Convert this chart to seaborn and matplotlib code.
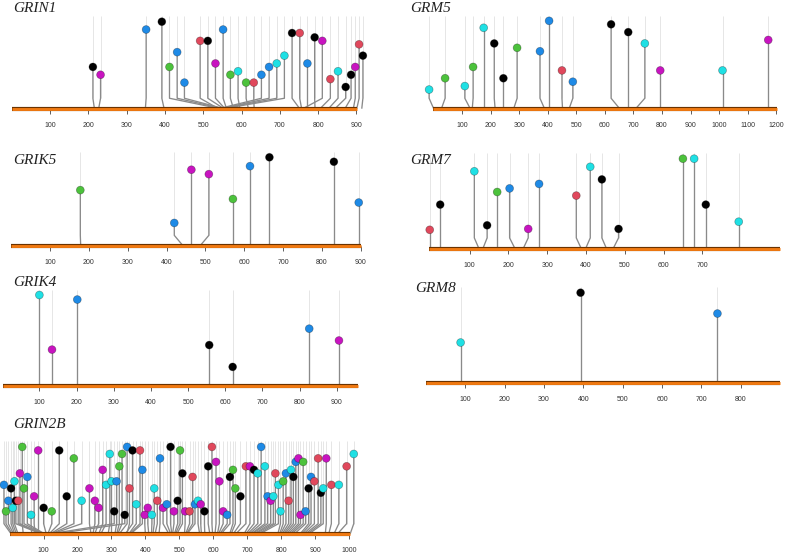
import numpy as np
import pandas as pd
import matplotlib
matplotlib.use("Agg")
import matplotlib.pyplot as plt
import seaborn as sns
from matplotlib.collections import LineCollection

sns.set_theme(style="white")
plt.rcParams['font.family'] = ['Liberation Sans', 'DejaVu Sans']

PALETTE = {"k": "#000000", "m": "#c814c0", "b": "#1e8ae6",
           "g": "#4cc23c", "c": "#1fe0e4", "r": "#e0485c"}

# ---------------- data ----------------
grin1_pos = [212, 232, 351, 392, 412, 432, 451, 492, 512, 532, 552, 571, 591, 612, 632,
             652, 672, 692, 712, 732, 752, 772, 791, 811, 832, 852, 872, 886, 897, 907, 917]
grin1_height = [48, 39, 91, 100, 48, 65, 30, 78, 78, 52, 91, 39, 43, 30, 30,
                39, 48, 52, 61, 87, 87, 52, 82, 78, 34, 43, 25, 39, 48, 74, 61]
grin1_anchor = [216, 227, 349, 398, 544, 551, 554, 540, 554, 557, 561, 579, 596, 618, 633,
                540, 544, 548, 553, 752, 757, 772, 792, 760, 805, 827, 844, 870, 892, 901, 914]
grin1_type = list("kmbkgbbrkmbgcgrbbcckrbkmrckkmrk")
grin1_ticks = list(range(100, 1000, 100))

grm5_pos = [-15, 41, 110, 139, 176, 213, 245, 293, 373, 405, 450, 488, 622, 682, 740, 794, 1012, 1172]
grm5_height = [22, 35, 26, 48, 93, 75, 35, 70, 66, 101, 44, 31, 97, 88, 75, 44, 44, 79]
grm5_anchor = [1, 28, 129, 136, 176, 216, 245, 281, 389, 405, 452, 475, 652, 682, 708, 794, 1012, 1172]
grm5_type = list("cgcgckkgbbrbkkcmcm")
grm5_ticks = list(range(100, 1300, 100))

grik5_pos = [178, 420, 464, 509, 571, 615, 665, 831, 895]
grik5_height = [63, 26, 86, 81, 53, 90, 100, 95, 49]
grik5_anchor = [179, 443, 464, 486, 571, 615, 665, 831, 895]
grik5_type = list("gbmmgbkkb")
grik5_ticks = list(range(100, 1000, 100))

grm7_pos = [-3, 24, 112, 145, 171, 203, 251, 279, 375, 411, 441, 484, 650, 679, 709, 794]
grm7_height = [21, 49, 86, 26, 63, 67, 22, 72, 59, 91, 77, 22, 100, 100, 49, 30]
grm7_anchor = [-3, 24, 124, 134, 171, 217, 238, 279, 388, 399, 453, 470, 650, 679, 709, 794]
grm7_type = list("rkckgbmbrckkgckc")
grm7_ticks = list(range(100, 800, 100))

grik4_pos = [100, 134, 202, 557, 620, 826, 906]
grik4_height = [100, 40, 95, 45, 21, 63, 50]
grik4_anchor = [100, 134, 202, 557, 620, 826, 906]
grik4_type = list("cmbkkbm")
grik4_ticks = list(range(100, 1000, 100))

grm8_pos = [88, 393, 741]
grm8_height = [45, 100, 77]
grm8_anchor = [88, 393, 741]
grm8_type = list("ckb")
grm8_ticks = list(range(100, 900, 100))

grin2b_pos = [-17, -11, -4, 4, 9, 14, 18, 25, 30, 37,
              42, 52, 63, 72, 84, 100, 124, 146, 168, 189,
              212, 235, 251, 262, 274, 284, 295, 300, 308, 315,
              323, 331, 339, 346, 353, 362, 373, 384, 391, 398,
              407, 419, 426, 435, 443, 452, 463, 474, 484, 495,
              502, 509, 517, 530, 539, 546, 555, 563, 574, 585,
              596, 608, 618, 629, 641, 649, 658, 665, 680, 696,
              708, 720, 731, 741, 752, 760, 769, 777, 783, 792,
              798, 806, 814, 822, 829, 836, 843, 851, 857, 865,
              872, 881, 888, 898, 909, 917, 924, 933, 948, 970,
              993, 1014]
grin2b_height = [56, 26, 38, 52, 30, 60, 38, 38, 69, 99,
                 52, 65, 22, 43, 95, 30, 26, 95, 43, 86,
                 38, 52, 38, 30, 73, 56, 91, 60, 26, 60,
                 77, 91, 22, 99, 52, 95, 34, 95, 73, 22,
                 30, 22, 52, 38, 86, 30, 34, 99, 26, 38,
                 95, 69, 26, 26, 65, 34, 38, 34, 26, 77,
                 99, 82, 60, 26, 22, 65, 73, 52, 43, 77,
                 77, 73, 69, 99, 77, 43, 38, 43, 69, 56,
                 26, 60, 69, 38, 73, 65, 82, 86, 22, 82,
                 26, 52, 65, 60, 86, 47, 52, 86, 56, 56,
                 77, 91]
grin2b_anchor = [5, 8, 12, 15, 20, 25, 95, 98, 100, 40,
                 102, 105, 65, 75, 84, 108, 112, 115, 118, 120,
                 122, 240, 245, 250, 262, 268, 290, 300, 110, 310,
                 315, 318, 125, 322, 345, 340, 350, 352, 355, 400,
                 410, 418, 422, 428, 440, 470, 475, 478, 480, 485,
                 488, 492, 515, 518, 520, 522, 560, 565, 575, 590,
                 598, 605, 612, 615, 618, 622, 648, 652, 658, 665,
                 690, 695, 700, 705, 710, 712, 718, 722, 730, 735,
                 790, 795, 798, 802, 806, 810, 815, 820, 826, 830,
                 838, 855, 860, 865, 870, 875, 880, 930, 940, 955,
                 965, 1003]
grin2b_type = list("bgbkcckrmg" "gbcmmkgkkg" "cmmmmccckb" "ggkbrkcrbm" "mccrbmbkmk"
                   "gkmrrbcmkk" "rmmmbkggkr" "mkcbcbmcrc" "cgbrckbmmg" "bkbrrkcmrc" "rc")
grin2b_ticks = list(range(100, 1100, 100))

# ---------------- layout (pixels) ----------------
W, H = 786, 554
fig = plt.figure(figsize=(W / 100, H / 100), dpi=100)

panels = [
    # name, pos, height, anchor, type, ticks, bar range, (x0px, px per unit, bar_y, top_y), title xy
    ("GRIN1", grin1_pos, grin1_height, grin1_anchor, grin1_type, grin1_ticks, (0, 902),
     (11.7, 0.383, 108.7, 21.7), (13, 9)),
    ("GRM5", grm5_pos, grm5_height, grm5_anchor, grm5_type, grm5_ticks, (0, 1203),
     (433.4, 0.2857, 108.7, 21.7), (410, 9)),
    ("GRIK5", grik5_pos, grik5_height, grik5_anchor, grik5_type, grik5_ticks, (0, 900),
     (11.2, 0.3883, 246.0, 157.3), (13, 160)),
    ("GRM7", grm7_pos, grm7_height, grm7_anchor, grm7_type, grm7_ticks, (-5, 901),
     (430.9, 0.3877, 248.7, 158.7), (410, 160)),
    ("GRIK4", grik4_pos, grik4_height, grik4_anchor, grik4_type, grik4_ticks, (3, 956),
     (2.2, 0.3717, 386.0, 295.0), (13, 282)),
    ("GRM8", grm8_pos, grm8_height, grm8_anchor, grm8_type, grm8_ticks, (0, 901),
     (426.0, 0.3933, 383.3, 292.7), (415, 288)),
    ("GRIN2B", grin2b_pos, grin2b_height, grin2b_anchor, grin2b_type, grin2b_ticks, (0, 1003),
     (9.7, 0.3393, 534.3, 446.0), (13, 425)),
]

KINK = 12
for name, pos, height, anchor, types, ticks, bar, (x0, ppu, bar_y, top_y), (tx, ty) in panels:
    left = (x0 + bar[0] * ppu) / W
    width = (bar[1] - bar[0]) * ppu / W
    bottom = 1 - bar_y / H
    hgt = (bar_y - top_y) / H
    ax = fig.add_axes([left, bottom, width, hgt])

    # faint guide lines
    ax.vlines(pos, KINK, 106, color="#e6e6e6", lw=0.7, zorder=1, clip_on=False)
    # kinked stems
    segs = [[(p, h), (p, KINK), (a, 0)] for p, h, a in zip(pos, height, anchor)]
    ax.add_collection(LineCollection(segs, colors="#8a8a8a", linewidths=0.95,
                                     zorder=2, clip_on=False))
    # protein bar
    ax.hlines(0, bar[0], bar[1], color="#6b3300", lw=3.0, zorder=3, clip_on=False)
    ax.hlines(0, bar[0], bar[1], color="#f07a12", lw=2.1, zorder=3.1, clip_on=False)

    df = pd.DataFrame({"pos": pos, "height": height, "type": types})
    sns.scatterplot(data=df, x="pos", y="height", hue="type", palette=PALETTE,
                    s=32, edgecolor=(0, 0, 0, 0.35), linewidth=0.5, legend=False,
                    ax=ax, zorder=4, clip_on=False)

    ax.set_xlim(bar)
    ax.set_ylim(0, 100)
    ax.set_xlabel("")
    ax.set_ylabel("")
    ax.set_yticks([])
    ax.set_xticks(ticks)
    ax.set_xticklabels([str(t) for t in ticks])
    ax.tick_params(axis="x", bottom=True, direction="out", length=3.4, width=0.6,
                   color="#444444", labelsize=5.0, labelcolor="#333333", pad=6)
    for s in ax.spines.values():
        s.set_visible(False)
    ax.patch.set_alpha(0)

    fig.text(tx / W, 1 - ty / H, name, ha="left", va="center",
             family=["Liberation Serif", "DejaVu Serif"], style="italic",
             fontsize=11, color="#222222")

fig.savefig("out.png", dpi=100)
